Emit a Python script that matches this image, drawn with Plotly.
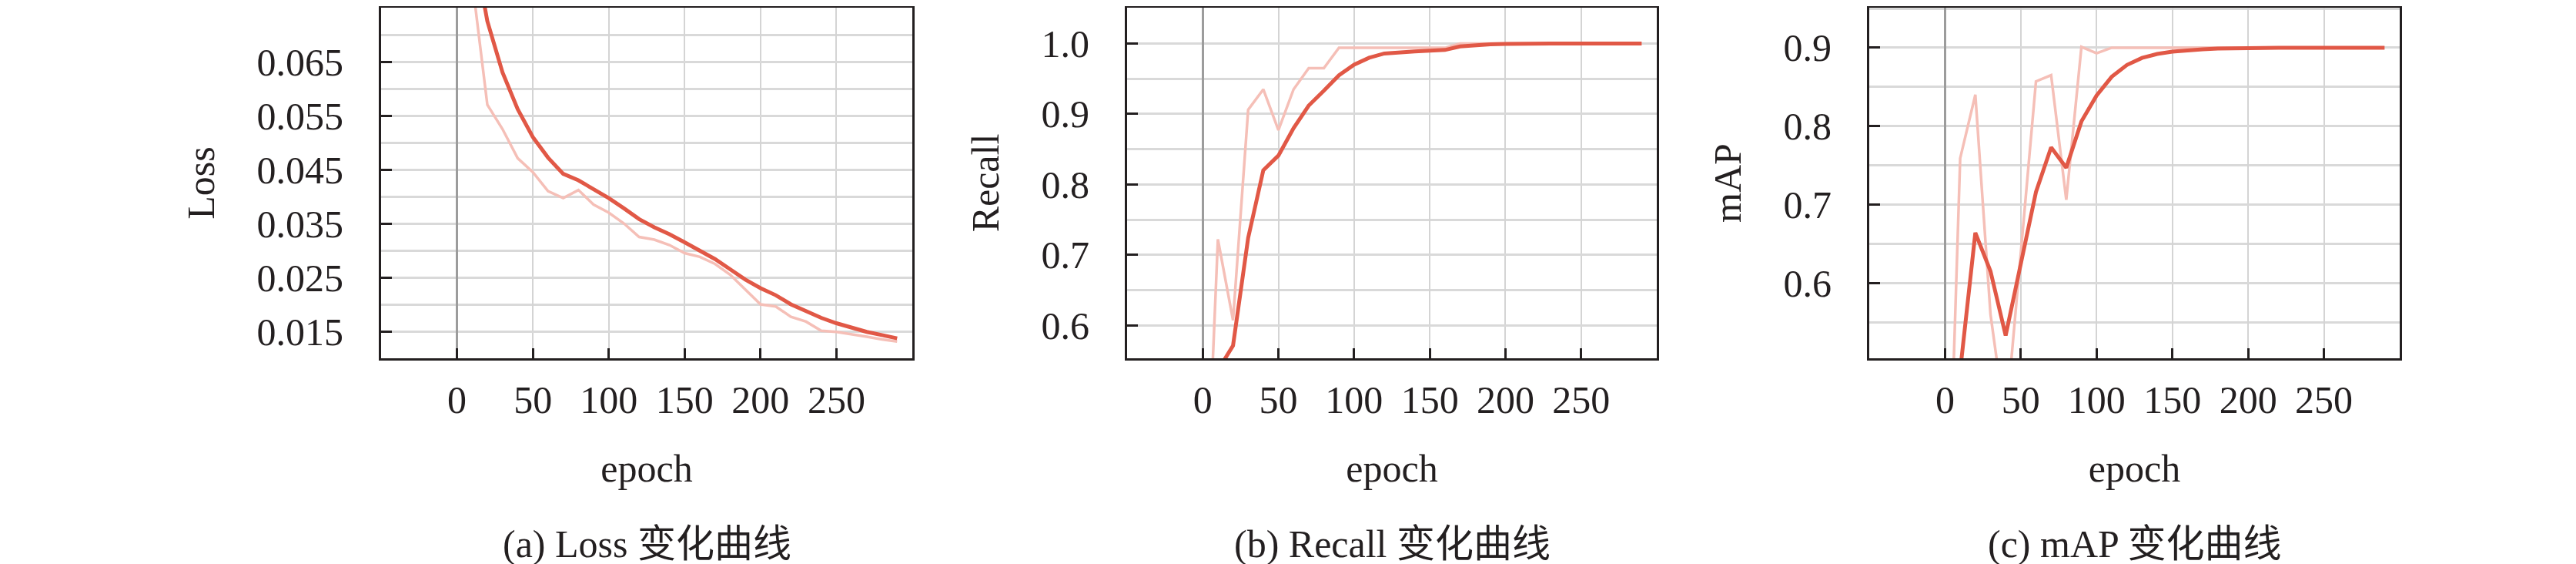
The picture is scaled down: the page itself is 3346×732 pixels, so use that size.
import plotly.graph_objects as go
from plotly.subplots import make_subplots

# training log, sampled every 10 epochs
epochs = list(range(0, 300, 10))

loss_raw = [0.120, 0.080, 0.0570, 0.0525, 0.0471, 0.0445, 0.0410, 0.0397, 0.0412, 0.0385,
            0.0370, 0.0350, 0.0325, 0.0320, 0.0310, 0.0295, 0.0288, 0.0275, 0.0255, 0.0228,
            0.0200, 0.0196, 0.0177, 0.0168, 0.0151, 0.0149, 0.0145, 0.0140, 0.0135, 0.0131]
loss_smooth = [0.110, 0.088, 0.0725, 0.0630, 0.0562, 0.0510, 0.0472, 0.0442, 0.0430, 0.0414,
               0.0397, 0.0378, 0.0358, 0.0343, 0.0330, 0.0315, 0.0300, 0.0284, 0.0265, 0.0246,
               0.0230, 0.0217, 0.0200, 0.0187, 0.0175, 0.0165, 0.0157, 0.0149, 0.0143, 0.0137]

recall_raw = [0.21, 0.722, 0.607, 0.906, 0.935, 0.877, 0.935, 0.965, 0.965, 0.994,
              0.994, 0.994, 0.994, 0.994, 0.994, 0.994, 0.994, 1.0, 1.0, 1.0,
              1.0, 1.0, 1.0, 1.0, 1.0, 1.0, 1.0, 1.0, 1.0, 1.0]
recall_smooth = [0.21, 0.536, 0.571, 0.724, 0.820, 0.841, 0.880, 0.912, 0.933, 0.955,
                 0.970, 0.980, 0.986, 0.988, 0.989, 0.990, 0.991, 0.996, 0.998, 0.999,
                 0.9995, 1.0, 1.0, 1.0, 1.0, 1.0, 1.0, 1.0, 1.0, 1.0]

map_raw = [0.15, 0.759, 0.840, 0.56, 0.42, 0.64, 0.857, 0.865, 0.706, 0.901,
           0.893, 0.9, 0.9, 0.9, 0.9, 0.9, 0.9, 0.9, 0.9, 0.9,
           0.9, 0.9, 0.9, 0.9, 0.9, 0.9, 0.9, 0.9, 0.9, 0.9]
map_smooth = [0.30, 0.488, 0.664, 0.615, 0.533, 0.625, 0.716, 0.773, 0.747, 0.806,
              0.839, 0.863, 0.878, 0.887, 0.892, 0.895, 0.897, 0.898, 0.899, 0.8995,
              0.9, 0.9, 0.9, 0.9, 0.9, 0.9, 0.9, 0.9, 0.9, 0.9]

x_ticks = [0, 50, 100, 150, 200, 250]
loss_ticks = [0.015, 0.025, 0.035, 0.045, 0.055, 0.065]
recall_ticks = [0.6, 0.7, 0.8, 0.9, 1.0]
map_ticks = [0.6, 0.7, 0.8, 0.9]

y_titles = ["Loss", "Recall", "mAP"]
captions = ["(a) Loss 变化曲线", "(b) Recall 变化曲线", "(c) mAP 变化曲线"]

W, H = 3346, 732
FONT = "Liberation Serif, Times New Roman, Noto Sans CJK SC, serif"
DARK = "#e15846"
LIGHT = "#f5bfb7"

fig = make_subplots(rows=1, cols=3)

panels = [
    (loss_raw, loss_smooth, loss_ticks, [0.01, 0.075], 0.005, ".3f"),
    (recall_raw, recall_smooth, recall_ticks, [0.553, 1.051], 0.05, ".1f"),
    (map_raw, map_smooth, map_ticks, [0.504, 0.951], 0.05, ".1f"),
]
x_domains = [(487, 1177), (1456, 2144), (2420, 3109)]

for i, (raw, smooth, yt, yr, minor_step, fmt) in enumerate(panels):
    col = i + 1
    fig.add_trace(go.Scatter(x=epochs, y=raw, mode="lines",
                             line=dict(color=LIGHT, width=3.5), showlegend=False),
                  row=1, col=col)
    fig.add_trace(go.Scatter(x=epochs, y=smooth, mode="lines",
                             line=dict(color=DARK, width=5), showlegend=False),
                  row=1, col=col)

    x0, x1 = x_domains[i]
    fig.update_xaxes(
        domain=[x0 / W, x1 / W], range=[-50, 300],
        tickvals=x_ticks, ticks="inside", ticklen=13, tickwidth=3, tickcolor="#231f20",
        ticklabelstandoff=8,
        showline=True, mirror=True, linecolor="#231f20", linewidth=3,
        showgrid=True, gridcolor="#d4d4d4", gridwidth=2,
        zeroline=True, zerolinecolor="#9c9c9c", zerolinewidth=3,
        title=dict(text="epoch", standoff=44, font=dict(size=50, color="#231f20")),
        tickfont=dict(size=50, color="#231f20"),
        row=1, col=col)
    fig.update_yaxes(
        domain=[1 - 457 / H, 1 - 2 / H], range=yr,
        tickvals=yt, tickformat=fmt, ticks="inside", ticklen=14, tickwidth=3,
        tickcolor="#231f20", ticklabelstandoff=36,
        showline=True, mirror=True, linecolor="#231f20", linewidth=3,
        showgrid=True, gridcolor="#d9d9d9", gridwidth=3,
        minor=dict(dtick=minor_step, tick0=0, showgrid=True, gridcolor="#d9d9d9",
                   gridwidth=3, ticks=""),
        zeroline=False,
        title=dict(text=y_titles[i], standoff=40, font=dict(size=50, color="#231f20")),
        tickfont=dict(size=50, color="#231f20"),
        row=1, col=col)

    fig.add_annotation(text=captions[i], xref="paper", yref="paper",
                       x=(x0 + x1) / 2 / W, y=1 - 698 / H,
                       xanchor="center", yanchor="middle", showarrow=False,
                       font=dict(size=50, color="#231f20", family=FONT))

fig.update_layout(
    width=W, height=H,
    margin=dict(l=0, r=0, t=0, b=0, autoexpand=False),
    paper_bgcolor="white", plot_bgcolor="white",
    font=dict(family=FONT, color="#231f20"),
)

fig.write_html("out.html")
